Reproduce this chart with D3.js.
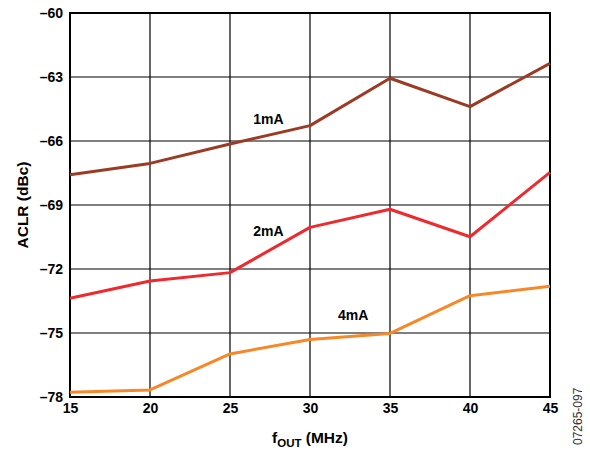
<!DOCTYPE html>
<html><head><meta charset="utf-8">
<script src="https://cdn.jsdelivr.net/npm/d3@7"></script>
<style>body{margin:0;background:#fff}svg{display:block}</style>
</head><body>
<script>
const freqs = [15, 20, 25, 30, 35, 40, 45];
const aclr1mA = [-67.58, -67.05, -66.14, -65.28, -63.06, -64.39, -62.36];
const aclr2mA = [-73.37, -72.56, -72.17, -70.05, -69.2, -70.49, -67.47];
const aclr4mA = [-77.78, -77.67, -75.98, -75.3, -75.02, -73.25, -72.81];
const seriesNames = ["1mA", "2mA", "4mA"];
const xTicks = [15, 20, 25, 30, 35, 40, 45];
const yTicks = [-60, -63, -66, -69, -72, -75, -78];

const W = 590, H = 451;
const m = {left: 70, right: 40, top: 13, bottom: 54};
const svg = d3.select("body").append("svg").attr("width", W).attr("height", H);
const x = d3.scaleLinear().domain([15, 45]).range([m.left, W - m.right]);
const y = d3.scaleLinear().domain([-78, -60]).range([H - m.bottom, m.top]);
const font = "'Liberation Sans', Arial, sans-serif";

// grid
svg.append("g").selectAll("line").data(xTicks).join("line")
  .attr("x1", d => x(d)).attr("x2", d => x(d)).attr("y1", y(-60)).attr("y2", y(-78))
  .attr("stroke", "#000").attr("stroke-width", 1.2);
svg.append("g").selectAll("line").data(yTicks).join("line")
  .attr("y1", d => y(d)).attr("y2", d => y(d)).attr("x1", x(15)).attr("x2", x(45))
  .attr("stroke", "#000").attr("stroke-width", 1.2);
svg.append("rect").attr("x", x(15)).attr("y", y(-60)).attr("width", x(45) - x(15)).attr("height", y(-78) - y(-60))
  .attr("fill", "none").attr("stroke", "#000").attr("stroke-width", 2);

// axes (labels only)
const fmt = d => d < 0 ? "\u2013" + Math.abs(d) : String(d);
const yAxis = svg.append("g").attr("transform", `translate(${x(15)},0)`)
  .call(d3.axisLeft(y).tickValues(yTicks).tickSize(0).tickPadding(7).tickFormat(fmt));
const xAxis = svg.append("g").attr("transform", `translate(0,${y(-78)})`)
  .call(d3.axisBottom(x).tickValues(xTicks).tickSize(0).tickPadding(6).tickFormat(fmt));
[yAxis, xAxis].forEach(a => {
  a.select(".domain").remove();
  a.selectAll("text").attr("font-family", font).attr("font-weight", "bold").attr("font-size", 14).attr("fill", "#000");
});

// lines
const colors = ["#9c3b24", "#ee2a2f", "#f7882a"];
const data = [aclr1mA, aclr2mA, aclr4mA];
const line = d3.line().x((d, i) => x(freqs[i])).y(d => y(d));
data.forEach((s, k) => {
  svg.append("path").datum(s).attr("d", line).attr("fill", "none")
    .attr("stroke", colors[k]).attr("stroke-width", 3).attr("stroke-linejoin", "round");
});

// series labels
const labelPos = [[27.4, -65.2], [27.4, -70.45], [32.7, -74.4]];
seriesNames.forEach((n, k) => {
  svg.append("text").attr("x", x(labelPos[k][0])).attr("y", y(labelPos[k][1]))
    .attr("font-family", font).attr("font-weight", "bold").attr("font-size", 14)
    .attr("text-anchor", "middle").text(n);
});

// axis titles
const xt = svg.append("text").attr("x", (x(15) + x(45)) / 2).attr("y", 443)
  .attr("font-family", font).attr("font-weight", "bold").attr("font-size", 15.5).attr("text-anchor", "middle");
xt.append("tspan").text("f");
xt.append("tspan").attr("font-size", 11.5).attr("dy", 4).text("OUT");
xt.append("tspan").attr("dy", -4).text(" (MHz)");

svg.append("text").attr("transform", `translate(28,${(y(-60) + y(-78)) / 2}) rotate(-90)`)
  .attr("font-family", font).attr("font-weight", "bold").attr("font-size", 15.5).attr("text-anchor", "middle")
  .text("ACLR (dBc)");

svg.append("text").attr("transform", `translate(582,445) rotate(-90)`)
  .attr("font-family", font).attr("font-size", 12).attr("fill", "#333").text("07265-097");
</script>
</body></html>
